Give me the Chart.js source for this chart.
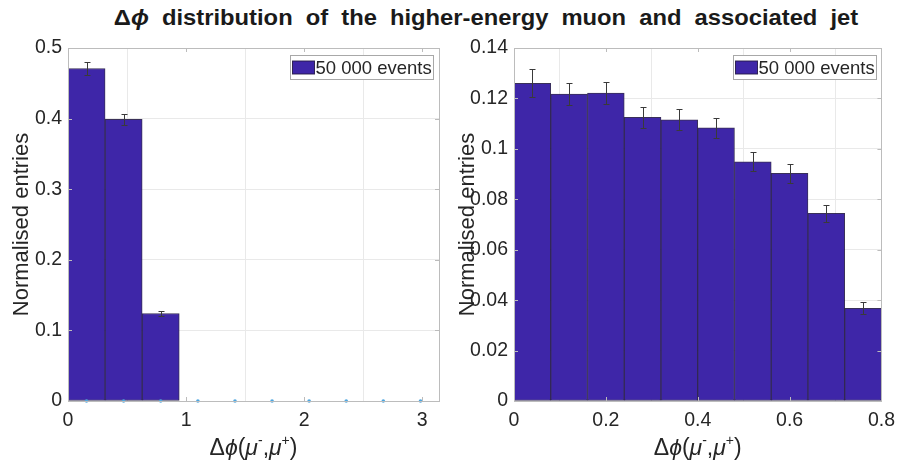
<!DOCTYPE html>
<html><head><meta charset="utf-8">
<script src="https://cdn.jsdelivr.net/npm/chart.js@4/dist/chart.umd.min.js"></script>
<style>
html,body{margin:0;padding:0;width:903px;height:464px;overflow:hidden;background:#fff;}
#title{position:absolute;left:86px;top:5px;width:800px;text-align:center;font:bold 22px "Liberation Sans",Arial,sans-serif;color:#1a1a1a;word-spacing:6px;white-space:nowrap;transform:scaleX(1.08);transform-origin:50% 50%;}
#c1{position:absolute;left:0;top:0}
#c2{position:absolute;left:451px;top:0}
</style></head><body>
<div id="title">Δ<i>ϕ</i> distribution of the higher-energy muon and associated jet</div>
<canvas id="c1" width="451" height="464"></canvas>
<canvas id="c2" width="452" height="464"></canvas>
<script>
// ---------- data ----------
const leftBinCenters = [0.157, 0.471, 0.785];
const leftValues = [0.471, 0.399, 0.124];
const leftErrors = [0.0090, 0.0078, 0.0035];
const leftZeroMarkerX = [0.157, 0.471, 0.785, 1.100, 1.414, 1.728, 2.042, 2.356, 2.670, 2.985];
const leftXMax = 3.1416;
const leftYMax = 0.5;
const leftXTicks = [0, 1, 2, 3];
const leftYTicks = [0, 0.1, 0.2, 0.3, 0.4, 0.5];

const rightBinCenters = [0.04, 0.12, 0.20, 0.28, 0.36, 0.44, 0.52, 0.60, 0.68, 0.76];
const rightValues = [0.1260, 0.1217, 0.1221, 0.1125, 0.1115, 0.1083, 0.0949, 0.0903, 0.0744, 0.0368];
const rightErrors = [0.0055, 0.0043, 0.0045, 0.0042, 0.0042, 0.0040, 0.0038, 0.0037, 0.0035, 0.0024];
const rightXMax = 0.8;
const rightYMax = 0.14;
const rightXTicks = [0, 0.2, 0.4, 0.6, 0.8];
const rightYTicks = [0, 0.02, 0.04, 0.06, 0.08, 0.1, 0.12, 0.14];

const legendLabel = '50 000 events';
const yAxisTitle = 'Normalised entries';

// ---------- styles ----------
const FONT = '"Liberation Sans", Arial, sans-serif';
const BAR_COLOR = '#3E26A8';
const BAR_EDGE = 'rgba(35,25,70,0.9)';
const GRID = '#e9e9e9';
const BOX = '#bcbcbc';
const TXT = '#262626';

const errorBars = {
  id: 'errorBars',
  afterDatasetsDraw(chart) {
    const ctx = chart.ctx, ys = chart.scales.y;
    chart.data.datasets.forEach((ds, i) => {
      if (!ds.errors) return;
      const meta = chart.getDatasetMeta(i);
      meta.data.forEach((el, j) => {
        const v = ds.data[j].y, e = ds.errors[j];
        const x = Math.round(el.x) + 0.5;
        const y1 = Math.round(ys.getPixelForValue(v + e)) + 0.5;
        const y2 = Math.round(ys.getPixelForValue(v - e)) + 0.5;
        ctx.save();
        ctx.strokeStyle = '#3a3a3a'; ctx.lineWidth = 1;
        ctx.beginPath();
        ctx.moveTo(x, y1); ctx.lineTo(x, y2);
        ctx.moveTo(x - 3, y1); ctx.lineTo(x + 3, y1);
        ctx.moveTo(x - 3, y2); ctx.lineTo(x + 3, y2);
        ctx.stroke();
        ctx.restore();
      });
    });
  }
};

const boxPlugin = {
  id: 'boxPlugin',
  afterDraw(chart) {
    const {ctx, chartArea: a} = chart;
    const xs = chart.scales.x, ys = chart.scales.y;
    ctx.save();
    ctx.strokeStyle = BOX; ctx.lineWidth = 1;
    ctx.strokeRect(Math.round(a.left) + 0.5, Math.round(a.top) + 0.5,
                   Math.round(a.right - a.left), Math.round(a.bottom - a.top));
    ctx.beginPath();
    const L = 4;
    ys.ticks.forEach(t => {
      const y = Math.round(ys.getPixelForValue(t.value)) + 0.5;
      ctx.moveTo(a.left, y); ctx.lineTo(a.left + L, y);
      ctx.moveTo(a.right, y); ctx.lineTo(a.right - L, y);
    });
    xs.ticks.forEach(t => {
      const x = Math.round(xs.getPixelForValue(t.value)) + 0.5;
      ctx.moveTo(x, a.bottom); ctx.lineTo(x, a.bottom - L);
      ctx.moveTo(x, a.top); ctx.lineTo(x, a.top + L);
    });
    ctx.stroke();
    ctx.restore();
  }
};

const boxLegend = {
  id: 'boxLegend',
  afterDraw(chart, args, opts) {
    const {ctx, chartArea: a} = chart;
    const w = 143, h = 24;
    const x0 = Math.round(a.right - opts.rightInset - w) + 0.5;
    const y0 = Math.round(a.top + opts.topInset) + 0.5;
    ctx.save();
    ctx.fillStyle = '#fff';
    ctx.fillRect(x0, y0, w, h);
    ctx.strokeStyle = '#a8a8a8'; ctx.lineWidth = 1;
    ctx.strokeRect(x0, y0, w, h);
    ctx.fillStyle = BAR_COLOR;
    ctx.fillRect(x0 + 2, y0 + 5.5, 22, 13);
    ctx.strokeStyle = BAR_EDGE;
    ctx.strokeRect(x0 + 2, y0 + 5.5, 22, 13);
    ctx.fillStyle = TXT;
    ctx.font = '18.5px ' + FONT;
    ctx.textBaseline = 'middle';
    ctx.fillText(opts.text, x0 + 25, y0 + h / 2 + 1);
    ctx.restore();
  }
};

const xTitle = {
  id: 'xTitle',
  afterDraw(chart, args, opts) {
    const {ctx, chartArea: a} = chart;
    const size = 23;
    const parts = [
      {t: 'Δ', f: `${size}px ${FONT}`},
      {t: 'ϕ', f: `italic ${size}px ${FONT}`},
      {t: '(', f: `${size}px ${FONT}`},
      {t: 'μ', f: `italic ${size}px ${FONT}`},
      {t: '-', f: `${Math.round(size * 0.6)}px ${FONT}`, sup: true},
      {t: ',', f: `${size}px ${FONT}`},
      {t: 'μ', f: `italic ${size}px ${FONT}`},
      {t: '+', f: `${Math.round(size * 0.6)}px ${FONT}`, sup: true},
      {t: ')', f: `${size}px ${FONT}`}
    ];
    ctx.save();
    ctx.fillStyle = TXT;
    ctx.textBaseline = 'alphabetic';
    let total = 0;
    parts.forEach(p => { ctx.font = p.f; p.w = ctx.measureText(p.t).width; total += p.w; });
    let x = (a.left + a.right) / 2 - total / 2;
    const base = opts.baseline;
    parts.forEach(p => {
      ctx.font = p.f;
      ctx.fillText(p.t, x, p.sup ? base - 10 : base);
      x += p.w;
    });
    ctx.restore();
  }
};

function fmt(v) { return String(parseFloat(Number(v).toFixed(4))); }

function makeChart(id, c) {
  const datasets = [];
  if (c.zeroX) {
    datasets.push({
      type: 'scatter',
      data: c.zeroX.map(x => ({x, y: 0})),
      pointRadius: 1.8,
      pointBackgroundColor: '#4DA6E0',
      pointBorderColor: '#4DA6E0',
      pointBorderWidth: 0,
      clip: false,
      order: -1
    });
  }
  datasets.push({
    type: 'bar',
    label: legendLabel,
    data: c.centers.map((x, i) => ({x, y: c.values[i]})),
    errors: c.errors,
    backgroundColor: BAR_COLOR,
    borderColor: BAR_EDGE,
    borderWidth: 1,
    borderSkipped: false,
    barPercentage: 1,
    categoryPercentage: 1,
    order: 1
  });
  return new Chart(document.getElementById(id), {
    type: 'bar',
    data: {datasets},
    options: {
      responsive: false,
      animation: false,
      devicePixelRatio: 1,
      layout: {padding: {top: 48, right: c.padRight, left: 0, bottom: 0}},
      plugins: {
        legend: {display: false},
        tooltip: {enabled: false},
        boxLegend: {text: legendLabel, rightInset: c.legRight, topInset: 7},
        xTitle: {baseline: 455}
      },
      scales: {
        x: {
          type: 'linear', min: 0, max: c.xMax, offset: false,
          afterBuildTicks: s => { s.ticks = c.xTicks.map(v => ({value: v})); },
          afterFit: s => { s.height = 63; },
          grid: {color: GRID, drawTicks: false},
          border: {display: false},
          ticks: {font: {family: FONT, size: 19.5}, color: TXT, padding: 8, maxRotation: 0, autoSkip: false, callback: fmt}
        },
        y: {
          type: 'linear', min: 0, max: c.yMax,
          afterBuildTicks: s => { s.ticks = c.yTicks.map(v => ({value: v})); },
          afterFit: s => { s.width = c.yWidth; },
          grid: {color: GRID, drawTicks: false},
          border: {display: false},
          ticks: {font: {family: FONT, size: 19.5}, color: TXT, padding: 6, autoSkip: false, callback: fmt},
          title: {display: true, text: yAxisTitle, color: TXT, font: {family: FONT, size: 22}, padding: {top: c.yTitlePad, bottom: 0}}
        }
      }
    },
    plugins: [errorBars, boxPlugin, boxLegend, xTitle]
  });
}

makeChart('c1', {
  centers: leftBinCenters, values: leftValues, errors: leftErrors, zeroX: leftZeroMarkerX,
  xMax: leftXMax, yMax: leftYMax, xTicks: leftXTicks, yTicks: leftYTicks,
  padRight: 12, yWidth: 68, yTitlePad: 9, legRight: 6
});
makeChart('c2', {
  centers: rightBinCenters, values: rightValues, errors: rightErrors, zeroX: null,
  xMax: rightXMax, yMax: rightYMax, xTicks: rightXTicks, yTicks: rightYTicks,
  padRight: 18, yWidth: 63, yTitlePad: 4, legRight: 5
});
</script>
</body></html>
